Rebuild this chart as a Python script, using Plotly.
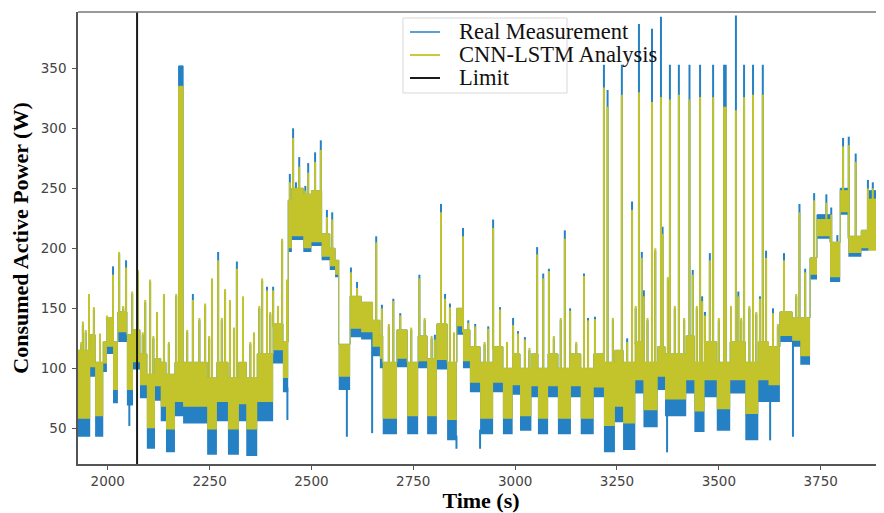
import numpy as np
import plotly.graph_objects as go

# ---------------- data ----------------
# band segments: value holds from seg_t[i] until seg_t[i+1]
seg_t = [1927, 1957, 1969, 1989, 1998, 2013, 2025, 2047, 2062, 2079,
         2096, 2116, 2130, 2143, 2165, 2174, 2185, 2244, 2268, 2295,
         2322, 2340, 2367, 2406, 2430, 2443, 2452, 2480, 2500, 2525,
         2545, 2558, 2567, 2595, 2622, 2650, 2668, 2675, 2710, 2735,
         2762, 2784, 2808, 2833, 2857, 2872, 2889, 2914, 2946, 2970,
         2994, 3012, 3040, 3056, 3081, 3105, 3137, 3161, 3193, 3218,
         3245, 3265, 3295, 3315, 3350, 3368, 3420, 3440, 3465, 3495,
         3528, 3565, 3597, 3622, 3650, 3680, 3700, 3724, 3741, 3773,
         3798, 3818, 3850, 3868, 3906]
real_lo = [43, 93, 43, 97, 112, 71, 122, 69, 99, 75,
           33, 73, 56, 30, 60, 60, 54, 28, 56, 28,
           56, 27, 56, 104, 80, 197, 207, 197, 202, 190,
           182, 176, 82, 126, 124, 110, 100, 45, 101, 45,
           100, 45, 99, 40, 128, 100, 80, 45, 80, 45,
           78, 48, 76, 45, 76, 45, 76, 45, 76, 30,
           55, 32, 79, 51, 82, 60, 79, 47, 76, 48,
           79, 40, 72, 72, 122, 118, 103, 174, 208, 172,
           228, 193, 198, 200, 200]
real_hi = [115, 128, 105, 122, 142, 122, 147, 128, 132, 112,
           95, 108, 105, 95, 105, 352, 105, 92, 105, 92,
           105, 92, 112, 137, 122, 240, 250, 245, 248, 212,
           200, 190, 120, 160, 155, 140, 127, 105, 132, 105,
           127, 108, 137, 105, 150, 132, 118, 105, 118, 100,
           112, 100, 112, 100, 112, 100, 112, 100, 112, 105,
           115, 105, 122, 105, 118, 112, 127, 105, 122, 105,
           122, 105, 122, 118, 147, 142, 142, 192, 228, 205,
           250, 210, 215, 248, 248]
pred_lo = [58, 101, 60, 104, 118, 82, 130, 82, 105, 86,
           50, 85, 68, 49, 72, 72, 68, 49, 72, 49,
           70, 49, 72, 115, 92, 200, 210, 200, 205, 193,
           185, 178, 93, 133, 130, 118, 108, 58, 108, 60,
           106, 60, 107, 57, 135, 106, 88, 58, 88, 58,
           86, 60, 85, 58, 85, 58, 85, 58, 84, 52,
           68, 54, 90, 65, 93, 74, 90, 64, 90, 66,
           90, 62, 90, 86, 127, 123, 110, 178, 210, 176,
           230, 196, 200, 198, 198]
pred_hi = [115, 128, 105, 122, 142, 122, 147, 128, 132, 112,
           95, 108, 105, 95, 105, 335, 105, 92, 105, 92,
           105, 92, 112, 137, 122, 240, 250, 245, 248, 212,
           200, 190, 120, 160, 155, 140, 127, 105, 132, 105,
           127, 108, 137, 105, 150, 132, 118, 105, 118, 100,
           112, 100, 112, 100, 112, 100, 112, 100, 112, 105,
           115, 105, 122, 105, 118, 112, 127, 105, 122, 105,
           122, 105, 122, 118, 147, 142, 142, 192, 224, 205,
           248, 210, 215, 241, 241]

# short spikes (peak values of each series)
spike_t = [1935, 1939, 1946, 1954, 1966, 1981, 1998, 2006, 2013, 2028,
           2038, 2045, 2060, 2074, 2086, 2092, 2104, 2112, 2121, 2138,
           2150, 2168, 2195, 2209, 2225, 2239, 2249, 2256, 2271, 2280,
           2288, 2300, 2310, 2317, 2332, 2350, 2359, 2372, 2379, 2391,
           2399, 2406, 2418, 2428, 2440,
           2447, 2455, 2462, 2470, 2485, 2492, 2509, 2523, 2538, 2551, 2563,
           2597, 2612, 2625, 2637, 2659, 2673, 2690, 2701, 2718, 2745,
           2765, 2778, 2795, 2803, 2818, 2828, 2840, 2850, 2872, 2885,
           2902, 2925, 2934, 2946, 2963, 2980, 2995, 3007, 3024, 3035,
           3054, 3069, 3083, 3095, 3112, 3122, 3135, 3150, 3169, 3179,
           3196,
           3218, 3227, 3240, 3262, 3275, 3287, 3296, 3304, 3311, 3316,
           3325, 3336, 3344, 3358, 3362, 3375, 3380, 3392, 3402, 3415,
           3428, 3436, 3446, 3454, 3459, 3466, 3478, 3486, 3500, 3513,
           3517, 3530, 3542, 3548, 3555, 3562, 3575, 3584, 3592, 3601,
           3608, 3616, 3633, 3645, 3660, 3690, 3698, 3712, 3734, 3764,
           3776, 3791, 3805, 3819, 3836, 3851, 3866, 3878, 3890]
spike_real = [120, 136, 130, 160, 149, 127, 142, 130, 185, 195,
              150, 190, 162, 180, 128, 155, 172, 125, 145, 160,
              120, 160, 130, 162, 140, 152, 125, 173, 197, 140,
              164, 155, 132, 189, 158, 120, 128, 150, 173, 168,
              145, 168, 150, 206, 172,
              262, 300, 255, 276, 252, 271, 280, 290, 232, 230, 187,
              184, 172, 150, 155, 210, 153, 135, 158, 146, 132,
              178, 140, 125, 128, 237, 162, 154, 128, 217, 140,
              137, 120, 135, 224, 151, 120, 142, 131, 126, 115,
              201, 179, 183, 125, 140, 215, 150, 120, 179, 142,
              143,
              353, 332, 140, 353, 125, 239, 150, 387, 197, 165,
              140, 383, 198, 393, 218, 174, 353, 150, 353, 140,
              353, 182, 150, 353, 160, 147, 196, 353, 140, 353,
              353, 150, 394, 164, 140, 353, 150, 353, 145, 160,
              353, 198, 150, 135, 196, 160, 237, 183, 246, 245,
              234, 211, 292, 293, 279, 214, 257, 255, 267]
spike_pred = [122, 139, 132, 162, 151, 129, 144, 132, 178, 197,
              152, 184, 164, 182, 130, 157, 174, 127, 147, 162,
              122, 162, 132, 157, 142, 154, 127, 175, 190, 142,
              166, 157, 134, 183, 160, 122, 130, 152, 175, 165,
              147, 165, 152, 208, 174,
              255, 292, 250, 268, 248, 263, 272, 282, 226, 224, 183,
              180, 167, 152, 153, 205, 150, 137, 156, 144, 134,
              175, 142, 127, 124, 230, 158, 151, 130, 210, 138,
              135, 122, 133, 217, 149, 122, 136, 129, 124, 117,
              195, 175, 181, 127, 142, 208, 148, 122, 177, 140,
              141,
              334, 318, 142, 328, 122, 232, 152, 330, 192, 160,
              142, 322, 200, 326, 212, 176, 324, 152, 328, 142,
              324, 178, 152, 326, 156, 144, 190, 326, 142, 318,
              318, 152, 315, 160, 142, 326, 152, 328, 147, 158,
              328, 192, 146, 137, 190, 162, 230, 180, 240, 238,
              228, 206, 285, 286, 272, 210, 250, 250, 260]

# downward dips of the real measurement
dip_t = [2053, 2441, 2587, 2649, 2856, 2914, 3373, 3626, 3682]
dip_real = [52, 57, 43, 46, 33, 33, 30, 40, 43]

limit_t = 2072
x_ticks = [2000, 2250, 2500, 2750, 3000, 3250, 3500, 3750]
y_ticks = [50, 100, 150, 200, 250, 300, 350]
legend_names = ["Real Measurement", "CNN-LSTM Analysis", "Limit"]

BLUE = "#2581c4"
YELLOW = "#c3c42b"
BLACK = "#1a1a1a"
legend_colors = ["#5a9fd6", "#c9c93a", BLACK]

# ---------------- figure ----------------
seg_t_a = np.array(seg_t)
fig = go.Figure()


def band(lo, hi, color):
    fig.add_trace(go.Scatter(x=seg_t, y=lo, mode="lines",
                             line=dict(width=0, shape="hv", color=color),
                             showlegend=False, hoverinfo="skip"))
    fig.add_trace(go.Scatter(x=seg_t, y=hi, mode="lines",
                             line=dict(width=1, shape="hv", color=color),
                             fill="tonexty", fillcolor=color,
                             showlegend=False, hoverinfo="skip"))


def segments(ts, bases, peaks):
    xs, ys = [], []
    for t, b, p in zip(ts, bases, peaks):
        xs += [t, t, None]
        ys += [b, p, None]
    return xs, ys


idx = np.searchsorted(seg_t_a, np.array(spike_t), side="right") - 1
spike_base = [pred_hi[i] - 2 for i in idx]
didx = np.searchsorted(seg_t_a, np.array(dip_t), side="right") - 1
dip_base = [real_lo[i] + 4 for i in didx]

# real measurement
band(real_lo, real_hi, BLUE)
sx, sy = segments(spike_t, spike_base, spike_real)
fig.add_trace(go.Scatter(x=sx, y=sy, mode="lines", line=dict(width=2, color=BLUE),
                         showlegend=False, hoverinfo="skip"))
dx, dy = segments(dip_t, dip_base, dip_real)
fig.add_trace(go.Scatter(x=dx, y=dy, mode="lines", line=dict(width=2, color=BLUE),
                         showlegend=False, hoverinfo="skip"))

# CNN-LSTM analysis
band(pred_lo, pred_hi, YELLOW)
px_, py_ = segments(spike_t, spike_base, spike_pred)
fig.add_trace(go.Scatter(x=px_, y=py_, mode="lines", line=dict(width=2, color=YELLOW),
                         showlegend=False, hoverinfo="skip"))

# limit line
fig.add_shape(type="line", x0=limit_t, x1=limit_t, xref="x", yref="paper",
              y0=0, y1=1, line=dict(color=BLACK, width=2))
# top spine
fig.add_shape(type="line", x0=0, x1=1, xref="paper", yref="paper",
              y0=1, y1=1, line=dict(color="#777777", width=1.5))

# legend box (drawn by hand to match the tight row spacing)
fig.add_shape(type="rect", xref="paper", yref="paper",
              x0=0.4032, x1=0.6067, y0=0.8208, y1=0.9867,
              line=dict(color="#d8d8d8", width=1), fillcolor="rgba(255,255,255,0.9)")
row_y = [0.9558, 0.9049, 0.8540]
for name, col, ry in zip(legend_names, legend_colors, row_y):
    fig.add_shape(type="line", xref="paper", yref="paper",
                  x0=0.4119, x1=0.4491, y0=ry, y1=ry,
                  line=dict(color=col, width=2))
    fig.add_annotation(xref="paper", yref="paper", x=0.4702, y=ry,
                       xanchor="left", yanchor="middle", showarrow=False,
                       text=name,
                       font=dict(family="Liberation Serif", size=22.5, color="#111111"))

fig.update_layout(
    width=876, height=505,
    margin=dict(l=70, r=0, t=4, b=49, autoexpand=False),
    plot_bgcolor="white", paper_bgcolor="white",
    showlegend=False,
)
fig.update_xaxes(range=[1927, 3905.5], tickvals=x_ticks,
                 ticktext=[str(v) for v in x_ticks],
                 showgrid=False, zeroline=False, automargin=False,
                 showline=True, linecolor="#555555", linewidth=1.5,
                 ticks="outside", ticklen=4, tickcolor="#555555",
                 tickfont=dict(family="DejaVu Sans", size=13.5, color="#444444"),
                 title=dict(text="<b>Time (s)</b>", standoff=0,
                            font=dict(family="Liberation Serif", size=22, color="#000000")))
fig.update_yaxes(range=[20.3, 396.9], tickvals=y_ticks,
                 ticktext=[str(v) for v in y_ticks],
                 showgrid=False, zeroline=False, automargin=False,
                 showline=True, linecolor="#555555", linewidth=1.5,
                 ticks="outside", ticklen=4, tickcolor="#555555",
                 ticklabelstandoff=3,
                 tickfont=dict(family="DejaVu Sans", size=13.5, color="#444444"),
                 title=dict(text="<b>Consumed Active Power (W)</b>", standoff=8,
                            font=dict(family="Liberation Serif", size=22, color="#000000")))

fig.write_html("out.html")
